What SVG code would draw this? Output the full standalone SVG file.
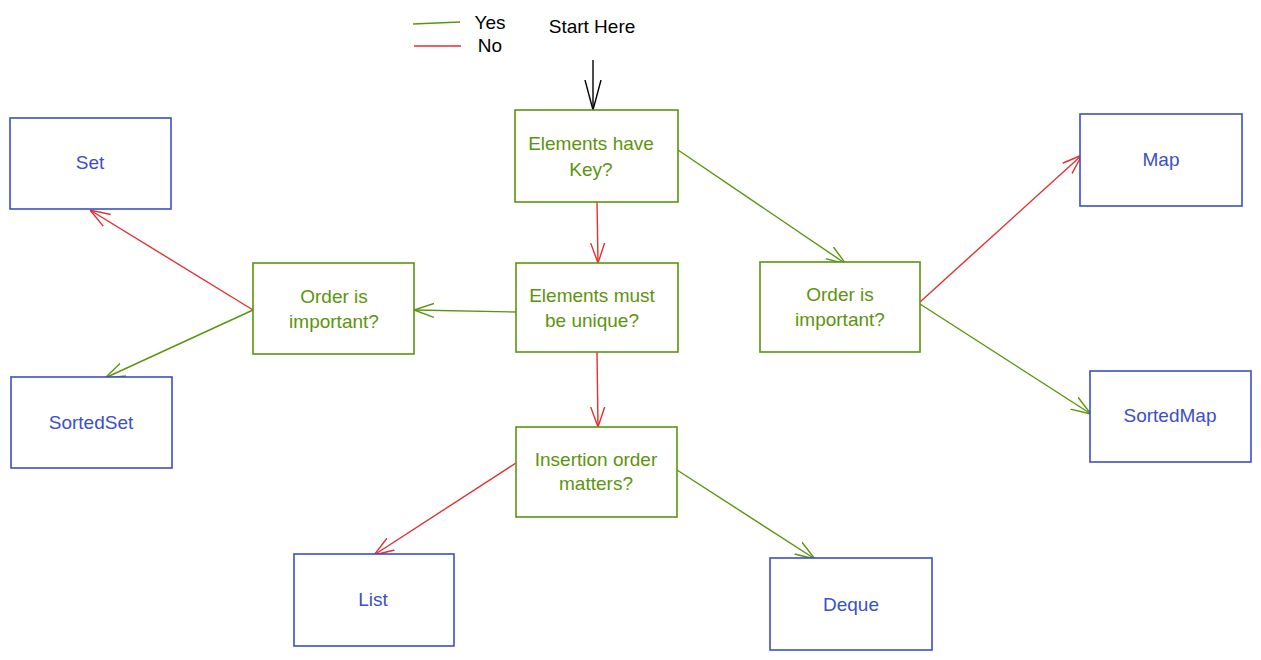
<svg xmlns="http://www.w3.org/2000/svg" width="1261" height="660" viewBox="0 0 1261 660">
<style>
text{font-family:"Liberation Sans",Arial,sans-serif;font-size:19px;text-anchor:middle}
.q rect{fill:#fff;stroke:#5c940d;stroke-width:1.6}
.q text{fill:#5c940d}
.a rect{fill:#fff;stroke:#3b4fc7;stroke-width:1.6}
.a text{fill:#3b4fc7}
.g{stroke:#5c940d;stroke-width:1.4;fill:none}
.r{stroke:#e03131;stroke-width:1.4;fill:none}
.k{stroke:#000;stroke-width:1.4;fill:none}
</style>
<defs>
<marker id="mg" viewBox="0 0 20 20" refX="20" refY="10" markerWidth="20" markerHeight="20" markerUnits="userSpaceOnUse" orient="auto"><path d="M0,3 L20,10 L0,17" fill="none" stroke="#5c940d" stroke-width="1.4"/></marker>
<marker id="mr" viewBox="0 0 20 20" refX="20" refY="10" markerWidth="20" markerHeight="20" markerUnits="userSpaceOnUse" orient="auto"><path d="M0,3 L20,10 L0,17" fill="none" stroke="#e03131" stroke-width="1.4"/></marker>
<marker id="mk" viewBox="0 0 30 20" refX="30" refY="10" markerWidth="30" markerHeight="20" markerUnits="userSpaceOnUse" orient="auto"><path d="M0,2 L30,10 L0,18" fill="none" stroke="#000" stroke-width="1.4"/></marker>
</defs>
<g id="legend">
<line class="g" x1="413" y1="24" x2="460" y2="22"/>
<line class="r" x1="414" y1="46" x2="461" y2="46"/>
<text x="490" y="29" style="text-anchor:middle">Yes</text>
<text x="490" y="52">No</text>
<text x="592" y="33">Start Here</text>
</g>
<g id="connectors">
<line class="k" x1="593" y1="60" x2="593" y2="110" marker-end="url(#mk)"/>
<line class="r" x1="597" y1="202" x2="598" y2="263" marker-end="url(#mr)"/>
<line class="g" x1="678" y1="150" x2="846" y2="264" marker-end="url(#mg)"/>
<line class="g" x1="516" y1="312" x2="414" y2="310" marker-end="url(#mg)"/>
<line class="r" x1="597" y1="352" x2="598" y2="427" marker-end="url(#mr)"/>
<line class="r" x1="253" y1="310" x2="90" y2="210" marker-end="url(#mr)"/>
<line class="g" x1="253" y1="310" x2="105" y2="378" marker-end="url(#mg)"/>
<line class="r" x1="920" y1="302" x2="1082" y2="155" marker-end="url(#mr)"/>
<line class="g" x1="920" y1="304" x2="1091" y2="414" marker-end="url(#mg)"/>
<line class="r" x1="516" y1="463" x2="374" y2="555" marker-end="url(#mr)"/>
<line class="g" x1="677" y1="470" x2="815" y2="559" marker-end="url(#mg)"/>
</g>
<g id="keyQ" class="q"><rect x="515" y="110" width="163" height="92"/><text x="591" y="150">Elements have</text><text x="591" y="176">Key?</text></g>
<g id="uniqueQ" class="q"><rect x="516" y="263" width="162" height="89"/><text x="592" y="302">Elements must</text><text x="592" y="327">be unique?</text></g>
<g id="insertQ" class="q"><rect x="516" y="427" width="161" height="90"/><text x="596" y="466">Insertion order</text><text x="596" y="490">matters?</text></g>
<g id="orderL" class="q"><rect x="253" y="263" width="161" height="91"/><text x="334" y="303">Order is</text><text x="334" y="328">important?</text></g>
<g id="orderR" class="q"><rect x="760" y="262" width="160" height="90"/><text x="840" y="301">Order is</text><text x="840" y="326">important?</text></g>
<g id="set" class="a"><rect x="10" y="118" width="161" height="91"/><text x="90" y="169">Set</text></g>
<g id="sortedSet" class="a"><rect x="11" y="377" width="161" height="91"/><text x="91" y="429">SortedSet</text></g>
<g id="map" class="a"><rect x="1080" y="114" width="162" height="92"/><text x="1161" y="166">Map</text></g>
<g id="sortedMap" class="a"><rect x="1090" y="371" width="161" height="91"/><text x="1170" y="422">SortedMap</text></g>
<g id="list" class="a"><rect x="294" y="554" width="160" height="92"/><text x="373" y="606">List</text></g>
<g id="deque" class="a"><rect x="770" y="558" width="162" height="92"/><text x="851" y="611">Deque</text></g>
</svg>
